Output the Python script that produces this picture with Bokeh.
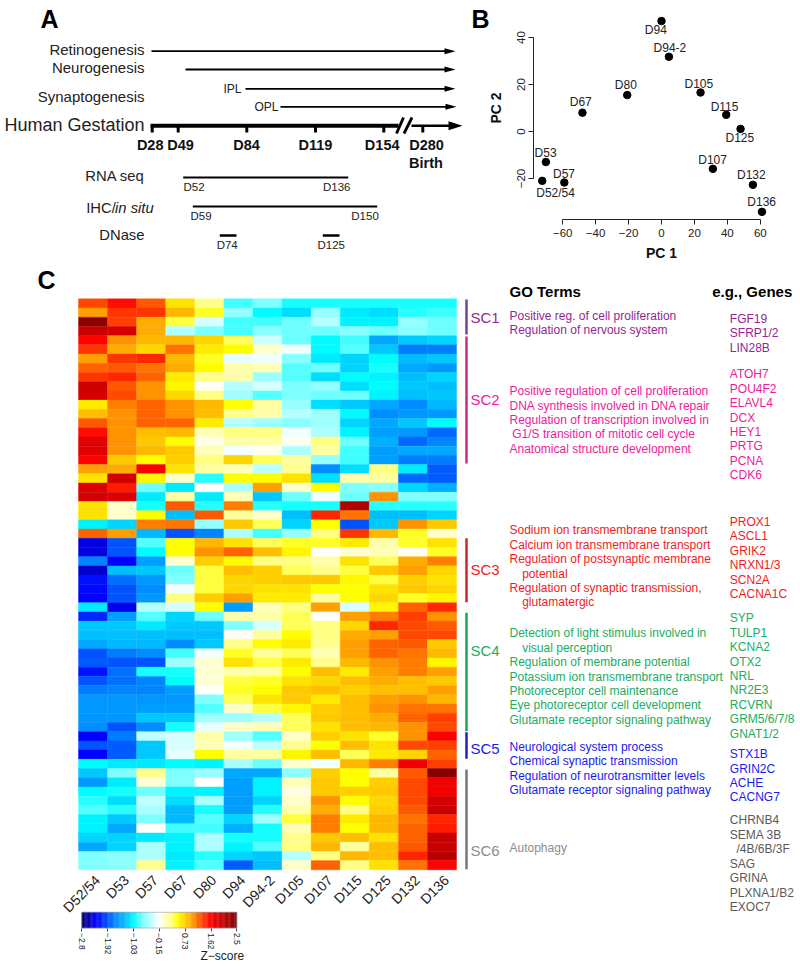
from bokeh.plotting import figure
from bokeh.layouts import row, column
from bokeh.models import Range1d, LinearAxis, FixedTicker, LinearColorMapper, ColumnDataSource
from bokeh.core.properties import value
from bokeh.transform import transform
from bokeh.embed import file_html
from bokeh.resources import INLINE
import numpy as np

FONT = "Liberation Sans"

# ---------- data ----------
samples = ["D52/54", "D53", "D57", "D67", "D80", "D94", "D94-2", "D105", "D107", "D115", "D125", "D132", "D136"]

heat_rows = [
 [1.3,1.55,1.25,0.65,0.25,-0.85,-0.7,-0.95,-0.95,-0.95,-0.95,-0.95,-0.95],
 [1.0,1.4,1.4,0.9,0.45,-0.6,-1.0,-1.15,-0.6,-1.1,-1.15,-0.9,-0.85],
 [2.4,1.35,0.95,0.4,-0.3,-0.85,-0.85,-0.75,-0.45,-1.05,-1.05,-0.6,-0.75],
 [2.0,1.9,0.95,-0.45,-0.7,-0.85,-0.65,-0.75,-0.75,-0.65,-0.75,-0.65,-0.75],
 [1.6,1.05,0.9,0.9,0.7,0.35,-0.35,-0.75,-1.0,-0.85,-1.45,-1.25,-1.2],
 [1.4,0.95,0.7,1.15,0.6,0.5,0.05,-0.2,-1.0,-0.8,-1.25,-1.7,-1.7],
 [1.0,1.4,1.45,0.9,0.45,-0.25,-0.2,-0.65,-1.1,-1.2,-1.0,-1.35,-1.25],
 [1.2,1.25,1.15,0.95,0.5,0.15,0.1,-0.8,-0.75,-1.2,-0.95,-1.45,-1.55],
 [1.4,1.45,1.2,0.6,0.25,0.15,-0.55,-0.8,-1.15,-1.0,-1.05,-1.3,-1.2],
 [1.95,1.25,1.05,0.55,-0.1,-0.45,-0.3,-0.7,-0.6,-1.15,-1.0,-1.25,-1.3],
 [1.9,1.3,1.05,0.7,0.3,-0.55,-0.8,-0.7,-0.75,-0.75,-1.05,-1.3,-1.25],
 [0.6,1.1,1.2,1.05,0.9,0.5,0.2,-0.6,-1.15,-1.25,-1.45,-1.6,-1.35],
 [0.85,1.05,1.2,1.05,0.85,0.25,0.15,-0.45,-0.55,-1.0,-1.6,-1.55,-1.55],
 [1.25,1.05,1.2,1.2,0.6,-0.45,-0.55,-0.65,-0.55,-1.2,-1.45,-1.25,-1.0],
 [1.55,1.05,0.85,0.9,0.1,0.3,0.3,-0.2,-0.5,-1.05,-1.5,-1.55,-1.8],
 [1.8,1.05,0.8,0.5,-0.05,0.15,0.15,-0.1,0.3,-0.75,-1.4,-1.8,-1.65],
 [1.85,1.05,0.9,0.8,0.1,-0.2,-0.1,-0.5,0.2,-0.85,-1.5,-1.45,-1.45],
 [1.6,0.8,0.5,0.75,0.3,0.7,0.35,0.2,-0.6,-0.85,-1.5,-1.7,-1.7],
 [1.0,0.95,1.65,0.65,0.2,0.1,-0.4,0.25,-1.6,-1.15,0.3,-1.1,-1.85],
 [0.65,1.95,0.55,0.05,-0.9,0.5,0.5,0.65,-1.15,0.15,0.2,-1.8,-1.85],
 [1.85,1.5,-0.75,-1.1,-0.15,-0.5,1.0,0.05,0.5,-0.7,-0.65,-1.2,-1.4],
 [1.9,1.85,-1.1,0.2,-1.1,0.1,-1.25,-0.75,-0.2,-0.75,1.05,-0.7,-0.7],
 [0.65,0.05,-0.95,1.25,-0.9,1.1,-0.9,-0.95,-0.95,2.15,-0.9,-0.9,-0.9],
 [0.65,0.05,0.5,-1.3,1.25,0.2,0.05,-1.3,1.45,1.15,-1.3,-1.3,-1.2],
 [-1.05,-1.2,1.1,1.15,-0.6,0.8,0.35,-1.2,0.5,-1.9,-1.25,1.05,0.8],
 [1.2,1.0,-1.35,-1.9,-1.65,-0.5,-0.85,-0.6,0.3,1.4,0.9,0.45,0.05],
 [-2.4,-1.9,-0.8,0.5,0.9,0.65,0.35,0.45,0.45,0.6,0.15,0.45,0.65],
 [-2.4,-1.9,-1.0,0.5,1.05,1.2,0.85,0.55,-0.15,0.0,0.1,-0.1,0.45],
 [-1.65,-2.3,-1.5,0.0,0.75,0.5,0.3,0.3,0.15,0.65,0.35,0.95,1.1],
 [-2.45,-1.3,-1.25,-0.75,0.4,0.85,0.75,0.35,0.25,0.4,0.8,1.0,0.7],
 [-2.2,-1.75,-1.55,-0.7,0.4,0.7,0.75,0.8,0.8,0.55,0.4,0.75,0.65],
 [-2.25,-1.9,-1.6,-0.2,0.4,0.7,0.65,0.65,0.5,0.5,0.65,0.8,0.7],
 [-2.3,-1.9,-1.55,0.3,0.75,1.0,0.6,0.6,0.2,0.5,0.7,0.45,0.55],
 [-1.1,-2.35,-0.45,-0.3,0.5,-1.5,0.1,0.3,1.0,-0.3,0.55,1.2,1.45],
 [-2.1,-1.5,-0.8,-1.2,-0.75,0.15,0.15,0.35,-0.15,1.0,1.1,1.35,1.05],
 [-1.25,-1.25,-1.1,-1.25,-1.25,-0.7,-0.3,0.35,0.3,0.7,1.45,1.3,1.25],
 [-1.3,-1.3,-1.3,-1.3,-1.3,-0.1,0.2,0.5,0.3,0.95,1.0,1.3,1.3],
 [-1.45,-1.35,-1.35,-1.6,-1.25,0.25,0.5,0.6,0.25,1.0,1.2,1.25,0.8],
 [-1.9,-1.7,-1.6,-0.85,-0.2,0.45,0.2,0.35,0.1,1.0,1.2,1.15,0.9],
 [-1.85,-1.9,-1.9,-0.55,0.0,0.65,0.4,0.6,0.25,0.9,1.05,1.1,0.55],
 [-2.2,-1.75,-0.95,-0.95,0.0,0.15,0.15,0.5,0.85,0.6,1.0,1.1,1.0],
 [-1.9,-1.75,-1.65,-1.0,0.0,0.4,0.45,0.65,0.7,0.85,0.95,0.85,0.8],
 [-1.7,-1.65,-1.65,-1.5,-0.15,0.45,0.5,0.8,0.85,0.75,0.85,0.85,1.0],
 [-1.55,-1.55,-1.55,-1.55,-0.7,0.35,0.65,0.8,0.6,0.85,1.0,1.05,0.9],
 [-1.55,-1.55,-1.5,-1.5,-0.8,0.05,0.4,0.55,0.75,0.85,1.05,1.15,1.15],
 [-1.55,-1.55,-1.25,-1.25,-0.55,-0.55,-0.45,0.35,0.8,0.85,0.95,1.2,1.35],
 [-1.6,-1.9,-1.6,-0.95,-0.25,0.05,0.1,0.35,0.65,0.85,0.9,1.05,1.3],
 [-2.3,-1.7,-0.4,-0.3,0.15,-0.55,-0.8,0.05,0.75,0.65,0.45,1.05,1.65],
 [-1.9,-1.85,-1.25,-0.3,0.1,-0.2,-0.4,0.25,0.5,0.85,0.65,1.3,1.35],
 [-2.3,-1.85,-1.25,-0.25,0.5,0.2,0.2,0.55,0.85,0.35,0.6,0.7,1.2],
 [-1.0,-1.1,-1.1,-1.0,-1.05,-0.5,-0.75,0.05,-0.2,0.9,1.1,1.7,1.35],
 [-1.25,-0.7,0.25,-0.7,-0.6,-1.45,-1.45,-0.65,0.75,0.5,0.2,1.25,2.45],
 [-1.55,-1.1,0.0,-0.7,-0.15,-1.5,-1.05,0.1,0.8,0.5,0.75,1.3,1.7],
 [-1.0,-0.95,-0.75,-1.05,-1.05,-1.5,-1.05,-0.05,0.8,0.75,0.8,1.3,1.7],
 [-0.9,-1.15,-0.4,-1.15,-0.5,-1.5,-1.2,0.05,1.05,0.5,0.7,1.3,1.9],
 [-0.8,-0.9,-0.5,-1.35,-0.95,-1.5,-0.9,0.15,0.95,0.3,0.75,1.25,2.0],
 [-1.05,-1.25,-0.7,-1.35,-0.8,-1.2,-0.55,0.4,1.1,0.6,0.9,1.15,1.45],
 [-1.05,-1.45,-0.15,-0.85,-0.85,-1.4,-0.95,0.1,1.1,0.5,0.9,1.2,1.5],
 [-1.2,-1.2,-1.1,-1.05,-0.5,-0.95,-0.95,0.25,0.8,0.85,0.65,1.2,2.0],
 [-1.45,-1.2,-0.5,-1.05,-0.5,-1.05,-0.8,0.3,0.9,0.2,0.85,1.25,2.0],
 [-0.7,-0.65,-0.5,-1.1,-0.9,-1.2,-1.25,-0.45,0.3,0.9,0.85,1.45,2.1],
 [-0.7,-0.65,0.25,-1.05,-0.8,-1.85,-1.3,0.05,1.2,0.3,0.65,1.15,1.6],
]

pca_names = ["D94","D94-2","D80","D105","D115","D125","D67","D53","D52/54","D57","D107","D132","D136"]
pc1 = [0,4.5,-20.8,23.7,39.3,48,-48,-70.2,-72.4,-59,31.2,55.5,61]
pc2 = [47,31.8,15.5,16.6,7.1,1.1,8,-13,-21,-21.7,-15.9,-22.7,-34.2]
pca_dx = [-5.7,1,-1.4,-1.7,-1.7,-0.7,-1.7,-0.3,13.3,-0.3,-0.3,-1.6,-0.3]
pca_dy = [9.3,-8.6,-10.4,-8.7,-8.3,9.4,-10.3,-9,12.4,-8.7,-9,-10,-10]

z_ticks = [-2.8,-1.92,-1.03,-0.15,0.73,1.62,2.5]
z_tick_labels = ["\u22122.8","\u22121.92","\u22121.03","\u22120.15","0.73","1.62","2.5"]

# colour ramp of the key
ramp_z = [-2.8,-2.3,-1.92,-1.6,-1.3,-1.0,-0.7,-0.4,-0.15,0.05,0.3,0.5,0.75,0.95,1.1,1.35,1.62,2.0,2.5]
ramp_c = ["#00006e","#0000ff","#0050ff","#0090ff","#00c0ff","#00ffff","#80ffff","#c0ffff","#ffffff","#ffffc8",
          "#ffff80","#ffff00","#ffd000","#ffb000","#ff8000","#ff4000","#ff0000","#c80000","#800000"]

def make_palette(n=256):
    zs = np.linspace(-2.8, 2.5, n)
    rgb = np.array([[int(c[i:i+2], 16) for i in (1, 3, 5)] for c in ramp_c], float)
    out = []
    for z in zs:
        out.append("#%02x%02x%02x" % tuple(int(round(np.interp(z, ramp_z, rgb[:, k]))) for k in range(3)))
    return out

mapper = LinearColorMapper(palette=make_palette(), low=-2.8, high=2.5)

TOP = 262  # page y where the upper row ends

def base_fig(w, h, xr, yr):
    p = figure(width=w, height=h, x_range=xr, y_range=yr, toolbar_location=None, output_backend="svg",
               x_axis_location=None, y_axis_location=None, min_border=0)
    p.outline_line_color = None
    p.grid.visible = False
    return p

def txt(p, x, y, s, size, color="#222222", bold=False, italic=False, align="left", **kw):
    style = "bold" if bold else ("italic" if italic else "normal")
    p.text(x=[x], y=[y], text=[s], text_font=value(FONT), text_font_size=value(f"{size}px"),
           text_color=color, text_font_style=style, text_align=align, text_baseline="middle", **kw)

def page_fig(x0, x1, y0, y1):
    return base_fig(x1 - x0, y1 - y0, Range1d(x0, x1), Range1d(y1, y0))

# ---------- panel A ----------
a = page_fig(0, 470, 0, TOP)
txt(a, 40, 18, "A", 25, "#000000", bold=True)
for s, y in [("Retinogenesis", 49), ("Neurogenesis", 67.3), ("Synaptogenesis", 95.7)]:
    txt(a, 144, y, s, 15, align="right")
txt(a, 144, 124.3, "Human Gestation", 18, align="right")
txt(a, 241, 88.3, "IPL", 12, align="right")
txt(a, 278, 106.3, "OPL", 12, align="right")

def arrow(p, x0, x1, y, lw, hl, hw):
    p.line([x0, x1 - hl + 1], [y, y], line_color="#000000", line_width=lw)
    p.patch([x1 - hl, x1, x1 - hl], [y - hw, y, y + hw], fill_color="#000000", line_color=None)

arrow(a, 151, 455, 50.7, 1.8, 11, 3)
arrow(a, 185, 455, 69, 1.8, 11, 3)
arrow(a, 245, 455, 88.3, 1.8, 11, 3)
arrow(a, 280, 456, 106.3, 1.8, 11, 3)
a.line([150, 398], [125.3, 125.3], line_color="#000000", line_width=4)
arrow(a, 411, 462, 125.3, 2.6, 14, 4.5)
a.line([396, 403], [133, 117], line_color="#000000", line_width=2.8)
a.line([403.5, 411.5], [133, 117], line_color="#000000", line_width=2.8)
for x in [151.7, 177.7, 246.3, 315, 383.3, 422.3]:
    a.line([x, x], [125, 132], line_color="#000000", line_width=3)
for s, x in [("D28", 149.7), ("D49", 180), ("D84", 246), ("D119", 315), ("D154", 381.7), ("D280", 426)]:
    txt(a, x, 144.3, s, 14.5, "#111111", bold=True, align="center")
txt(a, 425.5, 162.3, "Birth", 14.5, "#111111", bold=True, align="center")
txt(a, 144, 175.7, "RNA seq", 14.8, align="right")
txt(a, 85.7, 207, "IHC/", 14.8)
txt(a, 114.5, 207, "in situ", 14.8, italic=True)
txt(a, 144, 234.7, "DNase", 14.8, align="right")
a.line([182.7, 347.7], [177, 177], line_color="#000000", line_width=1.8)
a.line([192.3, 376.7], [206, 206], line_color="#000000", line_width=1.8)
a.line([219.3, 236], [235, 235], line_color="#000000", line_width=2.4)
a.line([322.3, 339], [235, 235], line_color="#000000", line_width=2.4)
txt(a, 183, 186, "D52", 11.5)
txt(a, 350, 186, "D136", 11.5, align="right")
txt(a, 190, 215, "D59", 11.5)
txt(a, 378.3, 215, "D150", 11.5, align="right")
txt(a, 226.7, 244, "D74", 11.5, align="center")
txt(a, 330.7, 244, "D125", 11.5, align="center")

# ---------- panel B ----------
PX_X = 1.647   # px per PC1 unit
PX_Y = 2.35    # px per PC2 unit
X0 = 661       # page x of PC1 = 0
Y0 = 131       # page y of PC2 = 0
b = base_fig(330, TOP, Range1d((470 - X0) / PX_X, (800 - X0) / PX_X), Range1d((Y0 - TOP) / PX_Y, Y0 / PX_Y))
xa = LinearAxis(ticker=FixedTicker(ticks=[-60, -40, -20, 0, 20, 40, 60]), bounds=(-60, 60), axis_label="PC 1",
                fixed_location=(Y0 - 219) / PX_Y)
ya = LinearAxis(ticker=FixedTicker(ticks=[-20, 0, 20, 40]), bounds=(-20, 40), axis_label="PC 2",
                major_label_orientation="vertical", fixed_location=(533 - X0) / PX_X)
for ax in (xa, ya):
    ax.major_label_text_font = FONT
    ax.major_label_text_font_size = "11.5px"
    ax.major_label_text_color = "#222222"
    ax.axis_label_text_font = FONT
    ax.axis_label_text_font_size = "14px"
    ax.axis_label_text_font_style = "bold"
    ax.axis_label_text_color = "#111111"
    ax.axis_line_color = "#222222"
    ax.major_tick_line_color = "#222222"
    ax.major_tick_out = 5
    ax.major_tick_in = 0
    ax.minor_tick_line_color = None
    ax.major_label_standoff = 4
xa.axis_label_standoff = 5
ya.axis_label_standoff = 10
b.add_layout(xa, "below")
b.add_layout(ya, "left")
pca = ColumnDataSource(dict(x=pc1, y=pc2, name=pca_names, dx=pca_dx, dy=pca_dy))
b.scatter("x", "y", source=pca, size=7.5, fill_color="#000000", line_color="#000000")
b.text("x", "y", text="name", source=pca, x_offset="dx", y_offset="dy", text_font=value(FONT),
       text_font_size=value("12px"), text_color="#222222", text_align="center", text_baseline="middle")
txt(b, (471 - X0) / PX_X, (Y0 - 18) / PX_Y, "B", 25, "#000000", bold=True)

# ---------- panel C heat map ----------
n_rows = len(heat_rows)
n_cols = len(samples)
CW = 29.08   # px per column
RH = 9.21    # px per row
HX0 = 78     # page x of the first column
HY0 = 298.3  # page y of the first row
xs, ys, zs = [], [], []
for r, vals in enumerate(heat_rows):
    for c, v in enumerate(vals):
        xs.append(c + 0.5)
        ys.append(r + 0.5)
        zs.append(v)
heat_src = ColumnDataSource(dict(x=xs, y=ys, z=zs))
def row_y(py):
    return (py - HY0) / RH
h = base_fig(460, 966 - TOP, Range1d((0 - HX0) / CW, (460 - HX0) / CW), Range1d(row_y(966), row_y(TOP)))
h.rect("x", "y", 1, 1, source=heat_src, fill_color=transform("z", mapper), line_color=transform("z", mapper),
       line_width=0.4)
tick_pos = [i + 0.65 for i in range(n_cols)]
hx = LinearAxis(ticker=FixedTicker(ticks=tick_pos),
                major_label_overrides={t_: s for t_, s in zip(tick_pos, samples)},
                major_label_orientation=np.pi / 4, fixed_location=n_rows)
hx.axis_line_color = None
hx.major_tick_line_color = None
hx.minor_tick_line_color = None
hx.major_label_text_font = FONT
hx.major_label_text_font_size = "14px"
hx.major_label_text_color = "#222222"
hx.major_label_standoff = 2
h.add_layout(hx, "below")
txt(h, (37 - HX0) / CW, row_y(279), "C", 25, "#000000", bold=True)

# ---------- colour key (same figure, z scale of its own) ----------
KPX = 155 / 5.3  # px per z unit
KX0 = 81.3       # page x of z = -2.8
K_TOP = row_y(911.8)
K_BOT = row_y(927.5)
h.extra_x_ranges["z"] = Range1d(-2.8 - KX0 / KPX, -2.8 + (460 - KX0) / KPX)
edges = np.linspace(-2.8, 2.5, 129)
key_src = ColumnDataSource(dict(l=edges[:-1], r=edges[1:], z=(edges[:-1] + edges[1:]) / 2))
h.quad(left="l", right="r", bottom=K_BOT, top=K_TOP, source=key_src, fill_color=transform("z", mapper),
       line_color=transform("z", mapper), line_width=0.4, x_range_name="z")
h.line([-2.8, 2.5, 2.5, -2.8, -2.8], [K_BOT, K_BOT, K_TOP, K_TOP, K_BOT], line_color="#9a9ab0", line_width=0.6,
       x_range_name="z")
kx = LinearAxis(x_range_name="z", ticker=FixedTicker(ticks=z_ticks),
                major_label_overrides={t_: s for t_, s in zip(z_ticks, z_tick_labels)},
                major_label_orientation="vertical", fixed_location=K_BOT)
kx.axis_line_color = None
kx.major_tick_line_color = "#444444"
kx.major_tick_out = 3
kx.major_tick_in = 0
kx.minor_tick_line_color = None
kx.major_label_text_font = FONT
kx.major_label_text_font_size = "8.5px"
kx.major_label_text_color = "#222222"
kx.major_label_standoff = 2
h.add_layout(kx, "below")
txt(h, -2.8 + (200 - KX0) / KPX, row_y(955.5), "Z\u2212score", 12, x_range_name="z")

# ---------- panel C annotation ----------
t = page_fig(460, 800, TOP, 966)
txt(t, 509, 291, "GO Terms", 15, "#000000", bold=True)
txt(t, 711.7, 291, "e.g., Genes", 15, "#000000", bold=True)

clusters = [
    dict(name="SC1", y=316.7, bar=(299, 334), bar_c="#7b3f98", c="#93278f", gc="#93278f",
         go=[("Positive reg. of cell proliferation", 509, 315), ("Regulation of nervous system", 509, 329.7)],
         genes=[("FGF19", 318), ("SFRP1/2", 332.7), ("LIN28B", 347)]),
    dict(name="SC2", y=399, bar=(336, 463), bar_c="#c9288f", c="#ec1c9c", gc="#ec1c9c",
         go=[("Positive regulation of cell proliferation", 509, 390.3),
             ("DNA synthesis involved in DNA repair", 509, 405),
             ("Regulation of transcription involved in", 509, 419.3),
             ("G1/S transition of mitotic cell cycle", 511.7, 433.7),
             ("Anatomical structure development", 509, 448)],
         genes=[("ATOH7", 373.7), ("POU4F2", 388.3), ("ELAVL4", 402.7), ("DCX", 417), ("HEY1", 431.3),
                ("PRTG", 445.7), ("PCNA", 460.3), ("CDK6", 474.7)]),
    dict(name="SC3", y=569.3, bar=(537.7, 601.7), bar_c="#d2232a", c="#f01c24", gc="#f01c24",
         go=[("Sodium ion transmembrane transport", 509, 529.3), ("Calcium ion transmembrane transport", 509, 544),
             ("Regulation of postsynaptic membrane", 509, 558.3), ("potential", 521.7, 573),
             ("Regulation of synaptic transmission,", 509, 587.3), ("glutamatergic", 521.7, 601.7)],
         genes=[("PROX1", 521), ("ASCL1", 535.7), ("GRIK2", 550), ("NRXN1/3", 564.7), ("SCN2A", 579), ("CACNA1C", 593.3)]),
    dict(name="SC4", y=650, bar=(612.3, 730.7), bar_c="#1aa655", c="#22ac60", gc="#22ac60",
         go=[("Detection of light stimulus involved in", 509, 632.7), ("visual perception", 521.7, 647),
             ("Regulation of membrane potential", 509, 661.7), ("Potassium ion transmembrane transport", 509, 676),
             ("Photoreceptor cell maintenance", 509, 690.3), ("Eye photoreceptor cell development", 509, 704.7),
             ("Glutamate receptor signaling pathway", 509, 719.3)],
         genes=[("SYP", 617.3), ("TULP1", 632), ("KCNA2", 646.3), ("OTX2", 661), ("NRL", 675.3), ("NR2E3", 689.7),
                ("RCVRN", 704), ("GRM5/6/7/8", 718.7), ("GNAT1/2", 733)]),
    dict(name="SC5", y=747.7, bar=(731.7, 758.3), bar_c="#2020c0", c="#1a1aee", gc="#1a1aee",
         go=[("Neurological system process", 509, 746.3), ("Chemical synaptic transmission", 509, 760.7),
             ("Regulation of neurotransmitter levels", 509, 775), ("Glutamate receptor signaling pathway", 509, 789.3)],
         genes=[("STX1B", 753.7), ("GRIN2C", 768), ("ACHE", 782.3), ("CACNG7", 796.7)]),
    dict(name="SC6", y=850, bar=(769, 868.7), bar_c="#777777", c="#8c8c8c", gc="#5a5a5a",
         go=[("Autophagy", 509, 847.3)],
         genes=[("CHRNB4", 819.7), ("SEMA 3B", 834.3), ("/4B/6B/3F", 848.7), ("SAG", 863.3), ("GRINA", 877.7),
                ("PLXNA1/B2", 892), ("EXOC7", 906.3)]),
]
for cl in clusters:
    t.line([466, 466], list(cl["bar"]), line_color=cl["bar_c"], line_width=2.5)
    txt(t, 470, cl["y"], cl["name"], 15, cl["c"])
    for s, x, y in cl["go"]:
        txt(t, x, y, s, 12, cl["c"])
    for s, y in cl["genes"]:
        txt(t, 736 if s.startswith("/") else 729.3, y, s, 12, cl["gc"])

page = column(row(a, b), row(h, t))
open("out.html", "w").write(file_html(page, INLINE))
